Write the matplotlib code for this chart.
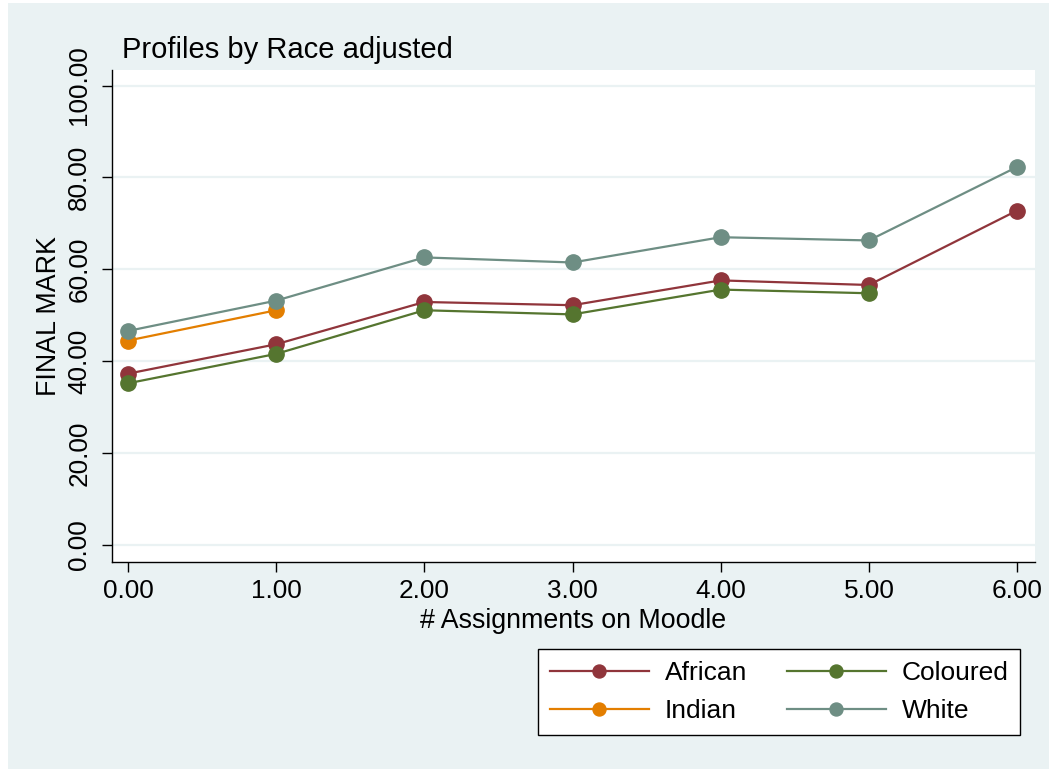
import matplotlib.pyplot as plt
from matplotlib.patches import Rectangle

plt.rcParams['font.family'] = ['Liberation Sans', 'DejaVu Sans']

assignments = [0, 1, 2, 3, 4, 5, 6]
african = [37.3, 43.7, 52.9, 52.2, 57.6, 56.6, 72.8]
coloured = [35.2, 41.6, 51.1, 50.2, 55.6, 54.8]
indian = [44.5, 51.1]
white = [46.6, 53.2, 62.6, 61.5, 67.0, 66.3, 82.3]

yticks = [0, 20, 40, 60, 80, 100]

race_colors = {
    "African": "#90353B",
    "Coloured": "#55752F",
    "Indian": "#E37E00",
    "White": "#6E8E84",
}
bg = "#EAF2F3"

fig = plt.figure(figsize=(10.49, 7.69), dpi=100, facecolor="white")
# stata-style graph region behind everything
fig.patches.append(Rectangle((8 / 1049, 0), 1, (769 - 3) / 769, transform=fig.transFigure,
                             facecolor=bg, edgecolor="none", zorder=-10))

ax = fig.add_axes([112 / 1049, 1 - 562 / 769, (1035 - 112) / 1049, (562 - 70) / 769])
ax.set_facecolor("white")

series = [
    ("African", assignments[:len(african)], african),
    ("Indian", assignments[:len(indian)], indian),
    ("Coloured", assignments[:len(coloured)], coloured),
    ("White", assignments[:len(white)], white),
]
handles = []
for name, xs, ys in series:
    ln, = ax.plot(xs, ys, color=race_colors[name], lw=1.6, marker="o", ms=11,
                  label=name, zorder=3)
    handles.append(ln)

ax.set_xlim(-0.108, 6.121)
ax.set_ylim(-3.7, 103.4)
ax.set_xticks(assignments)
ax.set_xticklabels([f"{v:.2f}" for v in assignments])
ax.set_yticks(yticks)
ax.set_yticklabels([f"{v:.2f}" for v in yticks], rotation=90, va="center")
ax.grid(axis="y", color=bg, lw=1.6)
ax.set_axisbelow(True)

for side in ["top", "right"]:
    ax.spines[side].set_visible(False)
for side in ["left", "bottom"]:
    ax.spines[side].set_linewidth(1.0)
ax.tick_params(direction="out", length=7, width=1, labelsize=18.8, color="black")
ax.tick_params(axis="y", pad=8)
ax.tick_params(axis="x", pad=5)

ax.set_xlabel("# Assignments on Moodle", fontsize=19.3, labelpad=4)
ax.set_ylabel("FINAL MARK", fontsize=19.3, labelpad=4)
ax.set_title("Profiles by Race adjusted", fontsize=21, loc="left", x=0.011, pad=9)

leg = fig.legend(handles=handles, ncol=2, loc="upper left",
                 bbox_to_anchor=(538 / 1049, 1 - 649 / 769), borderaxespad=0,
                 fontsize=19, frameon=True, fancybox=False, edgecolor="black",
                 facecolor="white", framealpha=1,
                 handlelength=3.75, handletextpad=0.6, columnspacing=1.5,
                 labelspacing=0.55, borderpad=0.45, markerscale=0.85)
leg.get_frame().set_linewidth(1.0)

fig.savefig("out.png", dpi=100, facecolor="white")
